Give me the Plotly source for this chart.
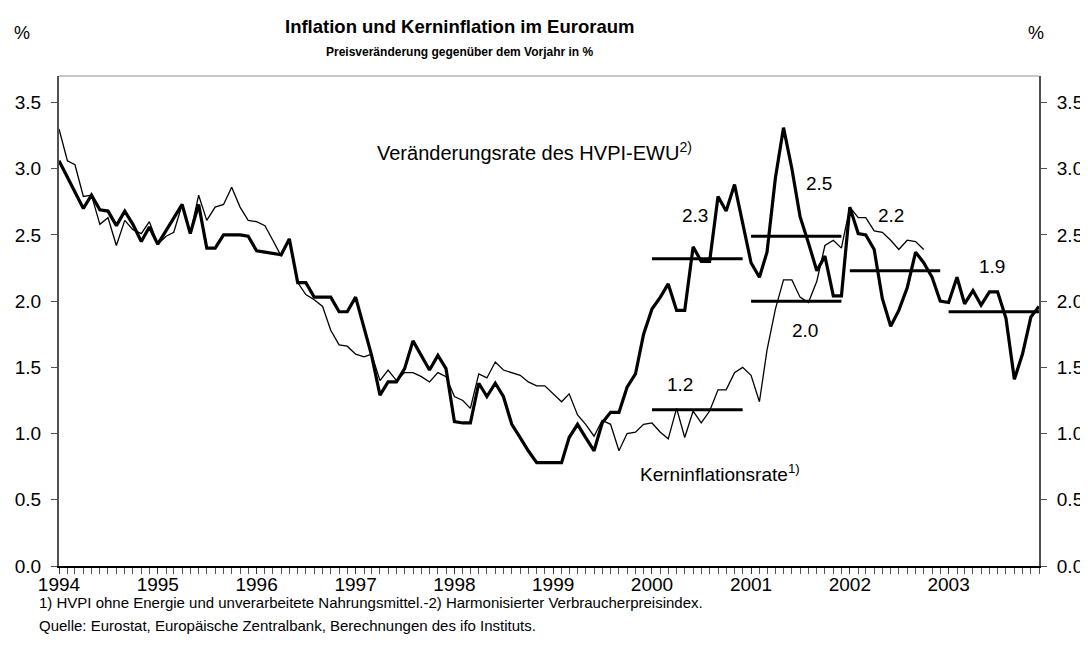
import pandas as pd
import plotly.graph_objects as go

# ---------------- data ----------------
months = pd.date_range("1994-01-01", "2003-12-01", freq="MS")

hvpi = [3.06, 2.94, 2.82, 2.70, 2.80, 2.69, 2.68, 2.57, 2.68, 2.58, 2.45, 2.56,
        2.43, 2.53, 2.63, 2.73, 2.51, 2.73, 2.40, 2.40, 2.50, 2.50, 2.50, 2.49,
        2.38, 2.37, 2.36, 2.35, 2.47, 2.14, 2.14, 2.03, 2.03, 2.03, 1.92, 1.92,
        2.03, 1.81, 1.59, 1.29, 1.39, 1.39, 1.49, 1.70, 1.59, 1.48, 1.59, 1.49,
        1.09, 1.08, 1.08, 1.38, 1.28, 1.38, 1.28, 1.07, 0.97, 0.87, 0.78, 0.78,
        0.78, 0.78, 0.97, 1.07, 0.97, 0.87, 1.08, 1.16, 1.16, 1.35, 1.45, 1.75,
        1.94, 2.03, 2.13, 1.93, 1.93, 2.41, 2.30, 2.30, 2.79, 2.68, 2.88, 2.58,
        2.29, 2.18, 2.37, 2.93, 3.31, 3.00, 2.64, 2.44, 2.23, 2.34, 2.04, 2.04,
        2.71, 2.51, 2.50, 2.39, 2.02, 1.81, 1.93, 2.10, 2.37, 2.29, 2.18, 2.00,
        1.99, 2.18, 1.98, 2.08, 1.97, 2.07, 2.07, 1.87, 1.41, 1.60, 1.88, 1.96]

core = [3.30, 3.06, 3.03, 2.79, 2.80, 2.58, 2.63, 2.42, 2.61, 2.54, 2.51, 2.60,
        2.43, 2.49, 2.52, 2.73, 2.51, 2.80, 2.61, 2.71, 2.73, 2.86, 2.71, 2.61,
        2.60, 2.57, 2.46, 2.34, 2.46, 2.14, 2.05, 2.01, 1.96, 1.78, 1.67, 1.66,
        1.60, 1.58, 1.60, 1.40, 1.48, 1.40, 1.46, 1.46, 1.43, 1.39, 1.46, 1.43,
        1.28, 1.25, 1.19, 1.45, 1.42, 1.54, 1.48, 1.46, 1.44, 1.39, 1.36, 1.36,
        1.30, 1.24, 1.30, 1.14, 1.07, 0.98, 1.10, 1.07, 0.87, 1.00, 1.01, 1.07,
        1.08, 1.01, 0.96, 1.19, 0.97, 1.17, 1.08, 1.17, 1.33, 1.33, 1.46, 1.50,
        1.44, 1.24, 1.63, 1.94, 2.16, 2.16, 2.03, 1.99, 2.15, 2.42, 2.46, 2.40,
        2.71, 2.63, 2.63, 2.53, 2.52, 2.46, 2.39, 2.46, 2.45, 2.39]

# annual averages (year, value, label text, label x [paper], label y [data])
hvpi_avg_years = [2000, 2001, 2002, 2003]
hvpi_avg_vals = [2.32, 2.49, 2.23, 1.92]
hvpi_avg_text = ["2.3", "2.5", "2.2", "1.9"]
hvpi_avg_lab_x = [0.649, 0.776, 0.849, 0.952]
hvpi_avg_lab_y = [2.65, 2.89, 2.65, 2.26]

core_avg_years = [2000, 2001]
core_avg_vals = [1.18, 2.00]
core_avg_text = ["1.2", "2.0"]
core_avg_lab_x = [0.634, 0.761]
core_avg_lab_y = [1.37, 1.78]

FONT = "Liberation Sans, Arial, sans-serif"

fig = go.Figure()

fig.add_trace(go.Scatter(x=months[:len(core)], y=core, mode="lines",
                         line=dict(color="black", width=1.3), showlegend=False))
fig.add_trace(go.Scatter(x=months, y=hvpi, mode="lines",
                         line=dict(color="black", width=3.2), showlegend=False))

for yr, v in zip(hvpi_avg_years + core_avg_years, hvpi_avg_vals + core_avg_vals):
    fig.add_trace(go.Scatter(x=[f"{yr}-01-01", f"{yr}-12-01"], y=[v, v], mode="lines",
                             line=dict(color="black", width=3), showlegend=False))

annotations = []
for t, ax, ay in zip(hvpi_avg_text + core_avg_text,
                     hvpi_avg_lab_x + core_avg_lab_x,
                     hvpi_avg_lab_y + core_avg_lab_y):
    annotations.append(dict(x=ax, xref="paper", y=ay, yref="y", text=t,
                            showarrow=False, xanchor="center", yanchor="middle",
                            font=dict(family=FONT, size=19, color="black")))

annotations += [
    dict(x=0.3224, xref="paper", y=3.13, yref="y",
         text="Veränderungsrate des HVPI-EWU<sup>2)</sup>", showarrow=False,
         xanchor="left", yanchor="middle",
         font=dict(family=FONT, size=20, color="black")),
    dict(x=0.591, xref="paper", y=0.70, yref="y",
         text="Kerninflationsrate<sup>1)</sup>", showarrow=False,
         xanchor="left", yanchor="middle",
         font=dict(family=FONT, size=19, color="black")),
    dict(x=0.409, xref="paper", y=1.10, yref="paper",
         text="<b>Inflation und Kerninflation im Euroraum</b>", showarrow=False,
         xanchor="center", yanchor="middle",
         font=dict(family=FONT, size=18.5, color="black")),
    dict(x=0.409, xref="paper", y=1.049, yref="paper",
         text="<b>Preisveränderung gegenüber dem Vorjahr in %</b>", showarrow=False,
         xanchor="center", yanchor="middle",
         font=dict(family=FONT, size=12, color="black")),
    dict(x=-0.0378, xref="paper", y=1.088, yref="paper", text="%",
         showarrow=False, xanchor="center", yanchor="middle",
         font=dict(family=FONT, size=18, color="black")),
    dict(x=0.997, xref="paper", y=1.088, yref="paper", text="%",
         showarrow=False, xanchor="center", yanchor="middle",
         font=dict(family=FONT, size=18, color="black")),
    dict(x=-0.0224, xref="paper", y=-0.0755, yref="paper",
         text="1) HVPI ohne Energie und unverarbeitete Nahrungsmittel.-2) Harmonisierter Verbraucherpreisindex.",
         showarrow=False, xanchor="left", yanchor="middle",
         font=dict(family=FONT, size=15, color="black")),
    dict(x=-0.0224, xref="paper", y=-0.122, yref="paper",
         text="Quelle: Eurostat, Europäische Zentralbank, Berechnungen des ifo Instituts.",
         showarrow=False, xanchor="left", yanchor="middle",
         font=dict(family=FONT, size=15, color="black")),
]

yaxis_common = dict(range=[0, 3.7], dtick=0.5, tick0=0, tickformat=".1f",
                    showline=True, linecolor="#505050", linewidth=2,
                    ticks="outside", ticklen=6, tickcolor="#505050", tickwidth=1,
                    showgrid=False, zeroline=False, automargin=False,
                    tickfont=dict(family=FONT, size=19, color="black"),
                    ticklabelstandoff=6)

# page body has an 8px margin: figure sized so it fits the 1088x657 window
fig.update_layout(
    width=1080, height=649,
    margin=dict(l=51, r=49, t=68, b=91, autoexpand=False),
    paper_bgcolor="white", plot_bgcolor="white",
    showlegend=False,
    xaxis=dict(type="date", range=["1994-01-01", "2003-12-01"],
               tick0="1994-01-01", dtick="M12", tickformat="%Y",
               showline=True, linecolor="black", linewidth=1.5,
               ticks="outside", ticklen=6, tickcolor="#333", tickwidth=1,
               minor=dict(dtick="M1", ticks="outside", ticklen=6,
                          tickcolor="#555", tickwidth=1),
               showgrid=False, zeroline=False, automargin=False,
               ticklabelstandoff=-6,
               tickfont=dict(family=FONT, size=19, color="black")),
    yaxis=yaxis_common,
    yaxis2=dict(**yaxis_common, overlaying="y", side="right"),
    annotations=annotations,
    shapes=[dict(type="line", xref="paper", yref="paper", x0=0, x1=1, y0=1, y1=1,
                 line=dict(color="#909090", width=1))],
)

# invisible trace to anchor right axis
fig.add_trace(go.Scatter(x=[months[0]], y=[0], yaxis="y2", mode="lines",
                         line=dict(width=0), hoverinfo="skip", showlegend=False))

fig.write_html("out.html")
